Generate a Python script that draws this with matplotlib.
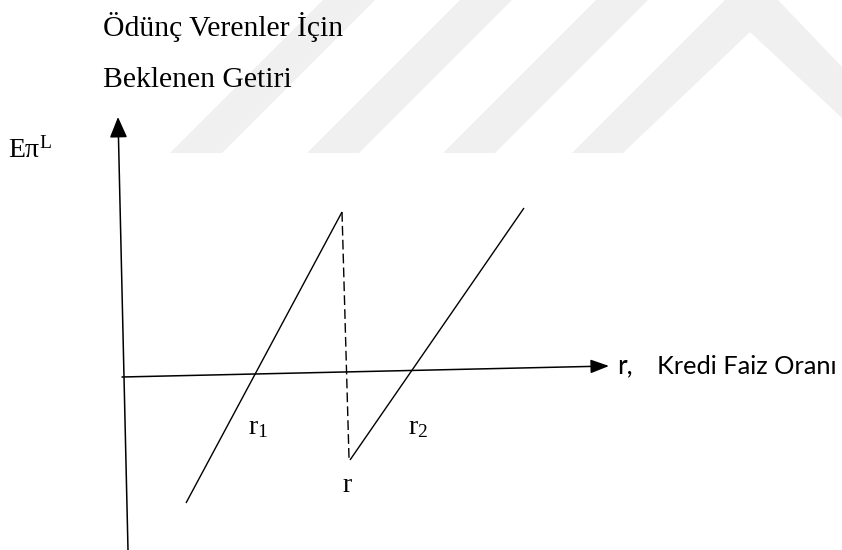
import matplotlib
matplotlib.use("Agg")
import matplotlib.pyplot as plt
from matplotlib.patches import Polygon

plt.rcParams['mathtext.fontset'] = 'custom'
plt.rcParams['mathtext.rm'] = 'Liberation Serif'
plt.rcParams['mathtext.it'] = 'Liberation Serif:italic'

# ---- diagram data (pixel-space coordinates of the schematic) ----
title_lines = ["Ödünç Verenler İçin", "Beklenen Getiri"]
title_y = [27, 80]
y_label = "Eπ$^{\\mathrm{L}}$"
x_label_var = "r,"
x_label_name = "Kredi Faiz Oranı"

yaxis_x = [128, 118]
yaxis_y = [550, 117]
xaxis_x = [122, 609]
xaxis_y = [377, 366]

left_line_x = [186, 342]
left_line_y = [503, 212]
jump_x = [342, 349]
jump_y = [212, 458]
right_line_x = [350, 524]
right_line_y = [460, 208]

point_labels = ["r$_{1}$", "r$_{2}$", "r"]
point_label_x = [258, 418, 347]
point_label_y = [428, 428, 485]

# watermark bands (background decoration)
band_left_x = [170, 307, 443]
band_width = 52
band_bottom = 153

fig = plt.figure(figsize=(8.42, 5.5), dpi=100)
ax = fig.add_axes([0, 0, 1, 1])
ax.set_xlim(0, 842)
ax.set_ylim(550, 0)
ax.axis('off')

wm = '#f0f0f0'
for bx in band_left_x:
    ax.add_patch(Polygon([(bx, band_bottom), (bx + band_width, band_bottom),
                          (bx + band_width + band_bottom, 0), (bx + band_bottom, 0)],
                         closed=True, facecolor=wm, edgecolor='none', zorder=0))
ax.add_patch(Polygon([(572, 153), (623, 153), (750, 32), (842, 118), (842, 67),
                      (778, 0), (725, 0)],
                     closed=True, facecolor=wm, edgecolor='none', zorder=0))

serif = 'Liberation Serif'
for t, yy in zip(title_lines, title_y):
    ax.text(103, yy, t, family=serif, fontsize=21.3, ha='left', va='center')
ax.text(8, 150, y_label, family=serif, fontsize=20, ha='left', va='center')

# axes arrows
ax.annotate('', xy=(yaxis_x[1], yaxis_y[1]), xytext=(yaxis_x[0], yaxis_y[0]),
            arrowprops=dict(arrowstyle='-|>,head_length=0.85,head_width=0.36',
                            mutation_scale=15, lw=1.1, color='black',
                            shrinkA=0, shrinkB=0))
ax.annotate('', xy=(xaxis_x[1], xaxis_y[1]), xytext=(xaxis_x[0], xaxis_y[0]),
            arrowprops=dict(arrowstyle='-|>,head_length=0.75,head_width=0.28',
                            mutation_scale=15, lw=1.1, color='black',
                            shrinkA=0, shrinkB=0))

ax.text(617, 366, x_label_var, family='Lato', fontsize=19, ha='left', va='center')
ax.text(657, 366, x_label_name, family='Lato', fontsize=18.3, ha='left', va='center')

ax.plot(left_line_x, left_line_y, color='black', lw=1.0, solid_capstyle='butt')
ax.plot(right_line_x, right_line_y, color='black', lw=1.0, solid_capstyle='butt')
ax.plot(jump_x, jump_y, color='black', lw=1.0, linestyle=(0, (7, 3)))

for lab, lx, ly in zip(point_labels, point_label_x, point_label_y):
    ax.text(lx, ly, lab, family=serif, fontsize=20, ha='center', va='center')

fig.savefig('out.png', dpi=100)
